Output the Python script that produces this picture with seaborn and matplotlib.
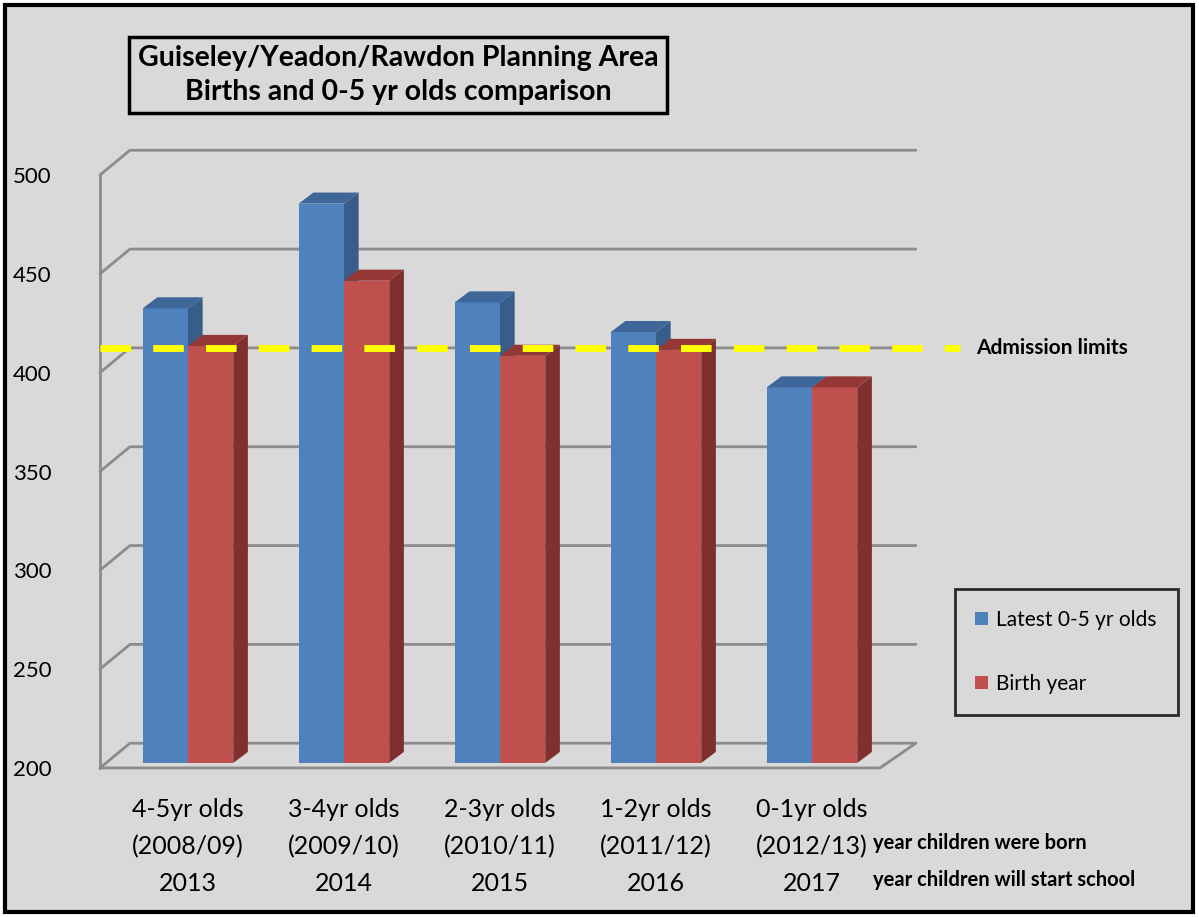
import numpy as np
import pandas as pd
import matplotlib
matplotlib.use("Agg")
import matplotlib.pyplot as plt
from matplotlib.patches import Polygon, Rectangle, Patch
from matplotlib.transforms import ScaledTranslation
import seaborn as sns

# ---- data ----
categories = ["4-5yr olds\n(2008/09)\n2013", "3-4yr olds\n(2009/10)\n2014",
              "2-3yr olds\n(2010/11)\n2015", "1-2yr olds\n(2011/12)\n2016",
              "0-1yr olds\n(2012/13)\n2017"]
latest_0_5 = [430, 483, 433, 418, 390]
birth_year = [411, 444, 406, 409, 390]
series_names = ["Latest 0-5 yr olds", "Birth year"]
admission_limit = 410
y_ticks = [200, 250, 300, 350, 400, 450, 500]

df = pd.DataFrame({
    "category": categories * 2,
    "value": latest_0_5 + birth_year,
    "series": [series_names[0]] * len(categories) + [series_names[1]] * len(categories),
})

BG = "#D9D9D9"
BLUE, RED = "#4F81BD", "#C0504D"
SIDE = {BLUE: "#385D8A", RED: "#7F302E"}
TOP = {BLUE: "#3E6699", RED: "#953735"}
GRID = "#8C8C8C"

sns.set_theme(style="white")
plt.rcParams["font.family"] = ["Lato", "DejaVu Sans"]
plt.rcParams["text.color"] = "black"
plt.rcParams["xtick.color"] = "black"
plt.rcParams["ytick.color"] = "black"

fig = plt.figure(figsize=(11.99, 9.17), dpi=100, facecolor="white")
fig.add_artist(Rectangle((5 / 1199, 5 / 917), 1188 / 1199, 907 / 917, transform=fig.transFigure,
                         facecolor=BG, edgecolor="black", lw=3, zorder=-10))

ax = fig.add_axes([100 / 1199, 1 - 763 / 917, 780 / 1199, 593 / 917])
ax.set_facecolor("none")

sns.barplot(data=df, x="category", y="value", hue="series", palette=[BLUE, RED],
            width=0.58, gap=0, saturation=1, ax=ax, legend=False, zorder=3)

ax.set_xlim(-0.564, 4.436)
ax.set_ylim(200, 500)

# 3D-style walls / gridlines derived from tick values
wdx, wdy, fdrop = 0.192, 10.0, 2.5
for v in y_ticks:
    if v == 200:
        continue
    ax.plot([-0.564, -0.564 + wdx, 4.436 + 0.23], [v - fdrop, v + wdy, v + wdy], color=GRID,
            lw=2, zorder=1, clip_on=False)
# floor
ax.plot([-0.564, 4.436, 4.436 + 0.23, -0.564 + wdx, -0.564],
        [200 - fdrop, 200 - fdrop, 200 + wdy, 200 + wdy, 200 - fdrop],
        color=GRID, lw=2, zorder=1, clip_on=False)

# 3D bar faces
bdx, bdy = 0.094, 5.6
patches = sorted(ax.patches, key=lambda p: p.get_x())
for i, p in enumerate(patches):
    x0, w, h = p.get_x(), p.get_width(), p.get_height()
    fc = matplotlib.colors.to_hex(p.get_facecolor())
    col = BLUE if fc.lower() == BLUE.lower() else RED
    z = 3 + i * 0.1
    p.set_zorder(z)
    p.set_edgecolor("none")
    side = Polygon([[x0 + w, 200], [x0 + w + bdx, 200 + bdy], [x0 + w + bdx, h + bdy], [x0 + w, h]],
                   closed=True, facecolor=SIDE[col], edgecolor="none", zorder=z)
    top = Polygon([[x0, h], [x0 + bdx, h + bdy], [x0 + w + bdx, h + bdy], [x0 + w, h]],
                  closed=True, facecolor=TOP[col], edgecolor="none", zorder=z)
    ax.add_patch(side)
    ax.add_patch(top)
    for q in (side, top):
        q.set_clip_on(False)

# admission line
ax.axhline(admission_limit, xmin=0, xmax=1.103, color="#FFFF00", lw=5, dashes=(4.4, 3.2),
           zorder=10, clip_on=False)
ax.text(5.05, admission_limit, "Admission limits", fontsize=15, fontweight="bold",
        va="center", ha="left", color="black")

# axes styling
for s in ["top", "right", "bottom"]:
    ax.spines[s].set_visible(False)
ax.spines["left"].set_color(GRID)
ax.spines["left"].set_linewidth(2)
ax.spines["left"].set_bounds(200 - fdrop, 500 - fdrop)
ax.set_yticks(y_ticks)
ax.tick_params(axis="y", length=0, pad=35, labelsize=16, labelcolor="black")
ax.tick_params(axis="x", length=0, pad=25, labelsize=18, labelcolor="black")
shift = ScaledTranslation(0, -5 / 100, fig.dpi_scale_trans)
for lab in ax.get_yticklabels():
    lab.set_transform(lab.get_transform() + shift)
for lab in ax.get_xticklabels():
    lab.set_linespacing(1.72)
ax.set_xlabel("")
ax.set_ylabel("")

# title box
fig.text(398 / 1199, 1 - 75 / 917,
         "Guiseley/Yeadon/Rawdon Planning Area\nBirths and 0-5 yr olds comparison",
         ha="center", va="center", fontsize=20.5, fontweight="bold", linespacing=1.35,
         bbox=dict(boxstyle="square,pad=0.3", facecolor=BG, edgecolor="black", lw=2.5))

# side annotations
fig.text(873 / 1199, 1 - 843 / 917, "year children were born", fontsize=14.5,
         fontweight="bold", va="center", ha="left")
fig.text(873 / 1199, 1 - 880 / 917, "year children will start school", fontsize=14.5,
         fontweight="bold", va="center", ha="left")

# legend
handles = [Patch(facecolor=BLUE, edgecolor="none"), Patch(facecolor=RED, edgecolor="none")]
leg = fig.legend(handles, series_names, loc="center",
                 bbox_to_anchor=(1066 / 1199, 1 - 652 / 917), fontsize=15,
                 handlelength=0.6, handleheight=0.6, handletextpad=0.4,
                 labelspacing=2.1, borderpad=1.0, frameon=True, fancybox=False)
leg.get_frame().set_facecolor(BG)
leg.get_frame().set_edgecolor("black")
leg.get_frame().set_linewidth(2)

fig.savefig("out.png", dpi=100, facecolor="white")
